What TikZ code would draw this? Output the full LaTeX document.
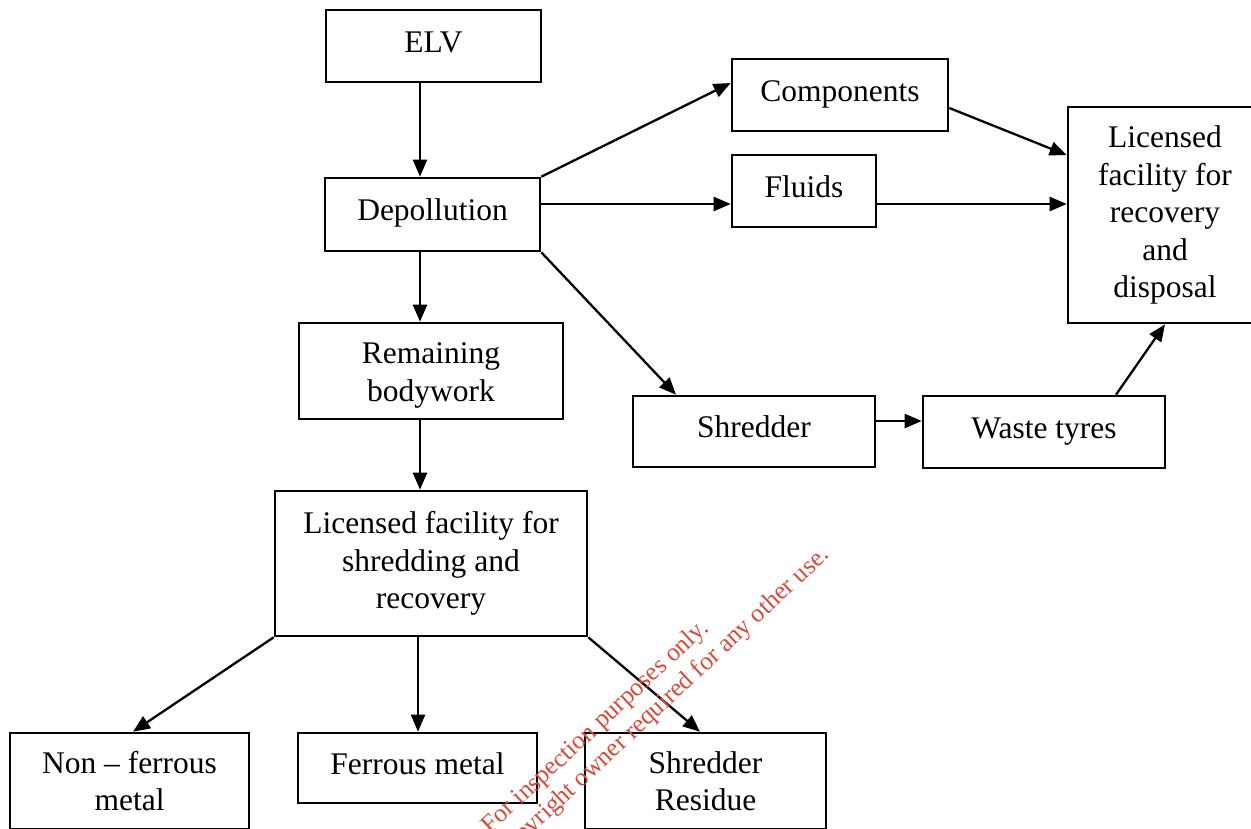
\documentclass[tikz,border=0pt]{standalone}
\usepackage{fontspec}
\setmainfont{Liberation Serif}
\usetikzlibrary{arrows.meta}
\definecolor{wmred}{RGB}{215,75,60}
\begin{document}
\begin{tikzpicture}[x=1pt,y=-1pt,
  box/.style={draw, line width=2.6pt, inner sep=0pt, align=center,
    font=\fontsize{31.5}{37.5}\selectfont},
  one/.style={text height=22pt, text depth=10pt},
  arr/.style={line width=2.3pt, -{Triangle[length=17pt,width=14pt]}},
  wm/.style={text=wmred, font=\fontsize{25.5}{26}\selectfont, rotate=43, inner sep=0pt, anchor=base}]
\useasboundingbox (0,0) rectangle (1251,828);
\clip (0,0) rectangle (1251,828);
\coordinate (x420) at (420,0);
\coordinate (x418) at (418,0);
% nodes
\node[box, one, minimum width=215pt, minimum height=72pt] (elv) at (433.5,46) {ELV};
\node[box, one, minimum width=215pt, minimum height=73pt] (dep) at (432.5,214.5) {Depollution};
\node[box, one, minimum width=216pt, minimum height=72pt] (comp) at (840,95) {Components};
\node[box, one, minimum width=144pt, minimum height=72pt] (flu) at (804,191) {Fluids};
\node[box, minimum width=194pt, minimum height=216pt] (lrd) at (1165,215) {Licensed\\facility for\\recovery\\and\\disposal};
\node[box, minimum width=264pt, minimum height=96pt] (rem) at (431,371) {\rule{0pt}{30pt}Remaining\\bodywork};
\node[box, one, minimum width=242pt, minimum height=71pt] (shr) at (754,431.5) {Shredder};
\node[box, one, minimum width=242pt, minimum height=72pt] (wt) at (1044,432) {Waste tyres};
\node[box, minimum width=312pt, minimum height=145pt] (lsr) at (431,563.5) {Licensed facility for\\shredding and\\recovery};
\node[box, minimum width=239pt, minimum height=96pt] (nf) at (129.5,781) {Non -- ferrous\\metal};
\node[box, one, minimum width=239pt, minimum height=70pt] (fe) at (417.5,768) {Ferrous metal};
\node[box, minimum width=241pt, minimum height=96pt] (sr) at (705.5,781) {Shredder\\Residue};
% connectors
\draw[arr] (elv.south -| x420) -- (dep.north -| x420);
\draw[arr] (dep.south -| x420) -- (rem.north -| x420);
\draw[arr] (rem.south -| x420) -- (lsr.north -| x420);
\draw[arr] (dep.north east) -- ([yshift=12pt]comp.west);
\coordinate (fy) at ([yshift=10.5pt]dep.east);
\draw[arr] (fy) -- (fy -| flu.west);
\coordinate (fz) at ([yshift=-13pt]flu.east);
\draw[arr] (fz) -- (fz -| lrd.west);
\draw[arr] ([yshift=-13pt]comp.east) -- ([yshift=60pt]lrd.west);
\draw[arr] (dep.south east) -- ([xshift=-78pt]shr.north);
\coordinate (sy) at ([yshift=10.5pt]shr.east);
\draw[arr] (sy) -- (sy -| wt.west);
\draw[arr] ([xshift=72pt]wt.north) -- (lrd.south);
\draw[arr] (lsr.south west) -- ([xshift=3.5pt]nf.north);
\draw[arr] (lsr.south -| x418) -- (fe.north -| x418);
\draw[arr] (lsr.south east) -- ([xshift=-5.5pt]sr.north);
% watermark
\node[wm] (wm1) at (600,732) {For inspection purposes only.};
\node[wm] (wm2) at (625,748) {Consent of copyright owner required for any other use.};
\end{tikzpicture}
\end{document}
